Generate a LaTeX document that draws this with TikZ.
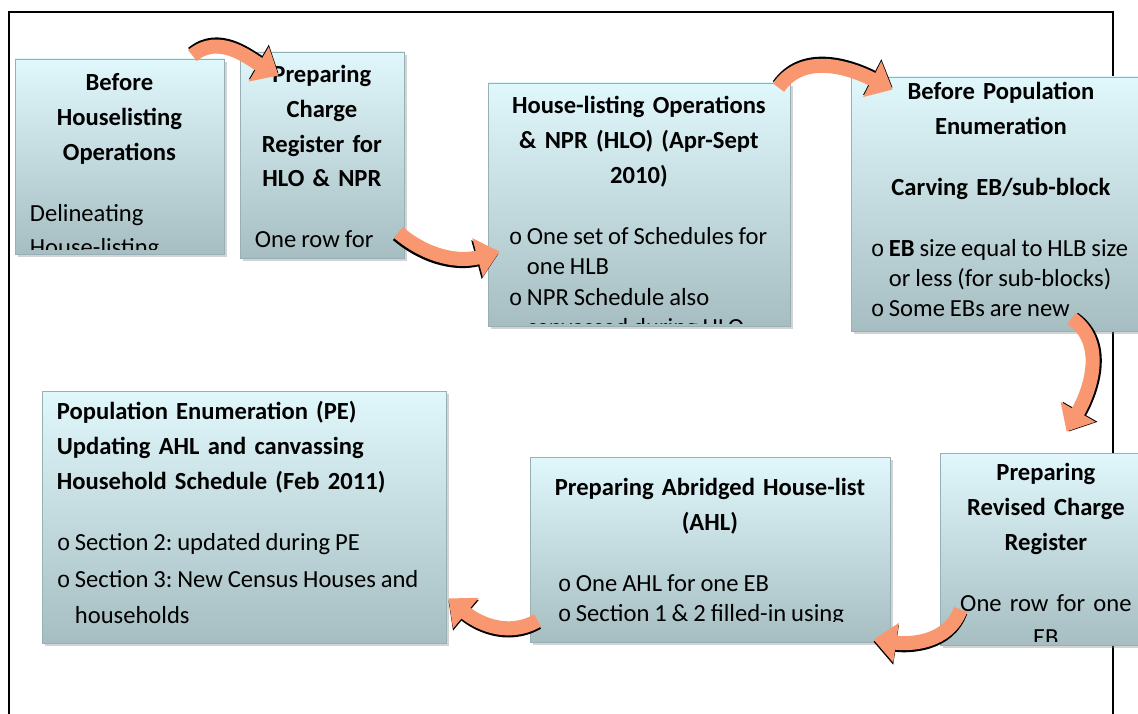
\documentclass[tikz,border=0pt]{standalone}
\usepackage{fontspec}
\setmainfont{Carlito}
\newfontfamily\bulfont{Liberation Mono}
\usetikzlibrary{arrows.meta,fit,shadows}
\definecolor{boxtop}{RGB}{224,247,251}
\definecolor{boxbot}{RGB}{166,189,193}
\definecolor{boxline}{RGB}{150,176,181}
\definecolor{flowc}{RGB}{249,152,112}
\frenchspacing
\newcommand{\head}[2][\centering]{{#1\bfseries\fontsize{14}{19.8}\selectfont\let\\\par #2\par}}
\newcommand{\gap}[1][\baselineskip]{\vspace{\dimexpr 34.7pt-#1\relax}}
\newcommand{\body}[1]{\raggedright\setlength\leftskip{#1}\spaceskip=0.2em plus 0.1em\relax}
\newcommand{\bul}[1]{\par\hangindent=0.36cm\hangafter=1\noindent\makebox[0.36cm][l]{\bulfont\fontsize{13}{13}\selectfont o}#1}
\begin{document}
\begin{tikzpicture}[x=0.02cm,y=-0.02cm,
		stage/.style={draw=boxline,line width=0.5pt,top color=boxtop,bottom color=boxbot,inner sep=0pt,
		drop shadow={shadow xshift=1.5pt,shadow yshift=-1.5pt,opacity=0.35}},
		txt/.style={anchor=base west,inner sep=0pt,font=\fontsize{14}{#1}\selectfont\frenchspacing},
		flow/.style={draw=flowc,line width=8pt,-{Triangle[length=13pt,width=22pt]},
		preaction={draw=black,line width=8pt,-{Triangle[length=13pt,width=22pt]},transform canvas={shift={#1}}}},
		]
		\useasboundingbox (0,0) rectangle (1138,713);
		\draw[line width=1pt] (9,720) -- (9,12) -- (1113,12) -- (1113,720);

		\node[stage,fit={(15,59) (224,254)}] (b1) {};
		\node[stage,fit={(240,52) (404,258)}] (b2) {};
		\node[stage,fit={(488,83) (790,326)}] (b3) {};
		\node[stage,fit={(851,77) (1151,331)}] (b4) {};
		\node[stage,fit={(940,453) (1152,645)}] (b5) {};
		\node[stage,fit={(530,457) (890,642)}] (b6) {};
		\node[stage,fit={(42,391) (446,643)}] (b7) {};

		\begin{scope}
			\clip (b1.north west) rectangle ([shift={(0,-5)}]b1.south east);
			\node[txt=19.6pt,text width=4.18cm] (t1) at ([shift={(0,32)}]b1.north west)
			{\head{Before\\Houselisting\\Operations}\gap\body{0.3cm}Delineating\newline House-listing\par};
		\end{scope}
		\begin{scope}
			\clip (b2.north west) rectangle ([shift={(0,-3)}]b2.south east);
			\node[txt=19.8pt,text width=3.28cm] (t2) at ([shift={(0,31)}]b2.north west)
			{\head{Preparing\\Charge\\Register for\\HLO \& NPR}\gap\body{0.3cm}One row for\par};
		\end{scope}
		\begin{scope}
			\clip (b3.north west) rectangle ([shift={(0,-3)}]b3.south east);
			\node[txt=17.4pt,text width=6.04cm] (t3) at ([shift={(0,31)}]b3.north west)
			{\head{House-listing Operations\\\& NPR (HLO) (Apr-Sept\\2010)}\gap\body{0.42cm}%
			\bul{One set of Schedules for\newline one HLB}\bul{NPR Schedule also\newline canvassed during HLO}\par};
		\end{scope}
		\begin{scope}
			\clip (b4.north west) rectangle ([shift={(0,-3)}]b4.south east);
			\node[txt=17pt,text width=6cm] (t4) at ([shift={(0,23)}]b4.north west)
			{\head{Before Population\\Enumeration}\gap[19.8pt]\head{Carving EB/sub-block}\gap\body{0.4cm}%
			\bul{\textbf{EB} size equal to HLB size\newline or less (for sub-blocks)}\bul{Some EBs are new}\par};
		\end{scope}
		\begin{scope}
			\clip (b5.north west) rectangle ([shift={(0,-4)}]b5.south east);
			\node[txt=19.8pt,text width=4.24cm] (t5) at ([shift={(0,28)}]b5.north west)
			{\head{Preparing\\Revised Charge\\Register}\gap{\centering\let\\\par One row for one\\EB\par}};
		\end{scope}
		\begin{scope}
			\clip (b6.north west) rectangle ([shift={(0,-21)}]b6.south east);
			\node[txt=17pt,text width=7.2cm] (t6) at ([shift={(0,39)}]b6.north west)
			{\head{Preparing Abridged House-list\\(AHL)}\gap\body{0.56cm}%
			\bul{One AHL for one EB}\bul{Section 1 \& 2 filled-in using}\par};
		\end{scope}
		\begin{scope}
			\clip (b7.north west) rectangle (b7.south east);
			\node[txt=21pt,text width=8.08cm] (t7) at ([shift={(0,29)}]b7.north west)
			{\head[\raggedright\leftskip=0.3cm]{Population Enumeration (PE)\\Updating AHL and canvassing\\Household Schedule (Feb 2011)}%
			\gap\body{0.3cm}%
			\bul{Section 2: updated during PE}\bul{Section 3: New Census Houses and\newline households}\par};
		\end{scope}

		\draw[flow={(0,1.2pt)}] ([shift={(-32,-3)}]b1.north east) to[out=40,in=150] ([shift={(39,24)}]b2.north west);
		\draw[flow={(-0.6pt,-1.2pt)}] ([shift={(-6,181)}]b2.north east) to[out=-40,in=195] ([shift={(12,169)}]b3.north west);
		\draw[flow={(0,1.2pt)}] ([shift={(-12,5)}]b3.north east) to[out=55,in=153] ([shift={(42,13)}]b4.north west);
		\draw[flow={(1.2pt,0)}] ([shift={(221,-13)}]b4.south west) to[out=-35,in=60] ([shift={(127,-21)}]b5.north west);
		\draw[flow={(0,-1.2pt)}] ([shift={(21,157)}]b5.north west) to[out=-110,in=-8] ([shift={(-17,183)}]b6.north east);
		\draw[flow={(0,-1.2pt)}] ([shift={(8,-22)}]b6.south west) to[out=-150,in=-40] ([shift={(2,-45)}]b7.south east);
\end{tikzpicture}
\end{document}
